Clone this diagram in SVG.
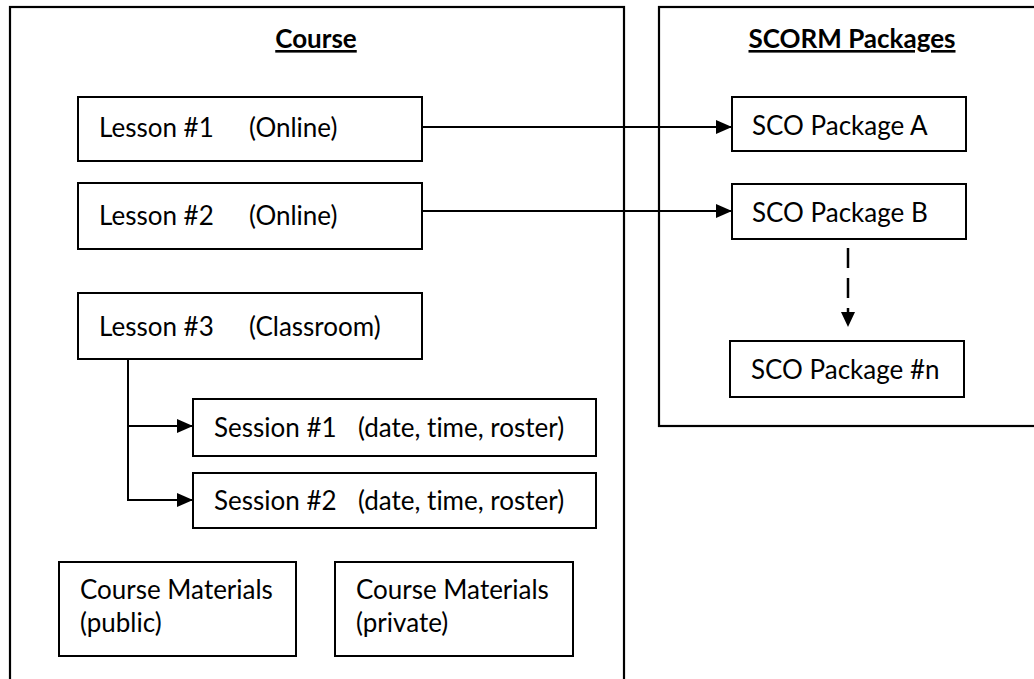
<svg xmlns="http://www.w3.org/2000/svg" width="1034" height="679" viewBox="0 0 1034 679">
<style>
.box{fill:#fff;stroke:#000;stroke-width:2}
.frame{fill:none;stroke:#000;stroke-width:2.2}
.t{font-family:Lato,"Noto Sans",sans-serif;font-size:26px;fill:#000;font-variant-ligatures:none}
.h{font-family:Lato,"Noto Sans",sans-serif;font-size:26px;font-weight:bold;fill:#000;text-decoration:underline}
.c{fill:none;stroke:#000;stroke-width:2}
.d{fill:none;stroke:#000;stroke-width:2.5;stroke-dasharray:20 10}
</style>
<defs>
<marker id="ah" viewBox="0 0 16 14" refX="16" refY="7" markerWidth="16" markerHeight="14" markerUnits="userSpaceOnUse" orient="auto">
<path d="M0,0 L16,7 L0,14 Z" fill="#000"/>
</marker>
</defs>
<rect width="1034" height="679" fill="#fff"/>
<g id="course">
<rect class="frame" x="10" y="7" width="614" height="700"/>
<text class="h" x="316" y="48" text-anchor="middle">Course</text>
</g>
<g id="scorm">
<rect class="frame" x="659" y="7" width="400" height="419"/>
<text class="h" x="852" y="48" text-anchor="middle">SCORM Packages</text>
</g>
<g id="lesson1">
<rect class="box" x="78" y="97" width="344" height="64"/>
<text class="t" y="137"><tspan x="99">Lesson #1</tspan><tspan x="249">(Online)</tspan></text>
</g>
<g id="lesson2">
<rect class="box" x="78" y="183" width="344" height="66"/>
<text class="t" y="225"><tspan x="99">Lesson #2</tspan><tspan x="249">(Online)</tspan></text>
</g>
<g id="lesson3">
<rect class="box" x="78" y="293" width="344" height="66"/>
<text class="t" y="336"><tspan x="99">Lesson #3</tspan><tspan x="249">(Classroom)</tspan></text>
</g>
<g id="session1">
<rect class="box" x="193" y="399" width="403" height="57"/>
<text class="t" y="437"><tspan x="214">Session #1</tspan><tspan x="358">(date, time, roster)</tspan></text>
</g>
<g id="session2">
<rect class="box" x="193" y="473" width="403" height="55"/>
<text class="t" y="510"><tspan x="214">Session #2</tspan><tspan x="358">(date, time, roster)</tspan></text>
</g>
<g id="materials-public">
<rect class="box" x="59" y="562" width="237" height="94"/>
<text class="t"><tspan x="80" y="599">Course Materials</tspan><tspan x="80" y="632">(public)</tspan></text>
</g>
<g id="materials-private">
<rect class="box" x="335" y="562" width="238" height="94"/>
<text class="t"><tspan x="356" y="599">Course Materials</tspan><tspan x="356" y="632">(private)</tspan></text>
</g>
<g id="scoA">
<rect class="box" x="732" y="97" width="234" height="54"/>
<text class="t" x="752" y="135">SCO Package A</text>
</g>
<g id="scoB">
<rect class="box" x="732" y="184" width="234" height="55"/>
<text class="t" x="752" y="222">SCO Package B</text>
</g>
<g id="scoN">
<rect class="box" x="730" y="341" width="234" height="56"/>
<text class="t" x="751" y="379">SCO Package #n</text>
</g>
<g id="connectors">
<path class="c" d="M422,127 H732" marker-end="url(#ah)"/>
<path class="c" d="M422,211 H732" marker-end="url(#ah)"/>
<path class="d" d="M848,248 V312"/>
<path d="M841,312 L855,312 L848,327 Z" fill="#000"/>
<path class="c" d="M128,359 V500 H193" marker-end="url(#ah)"/>
<path class="c" d="M128,426 H193" marker-end="url(#ah)"/>
</g>
</svg>
